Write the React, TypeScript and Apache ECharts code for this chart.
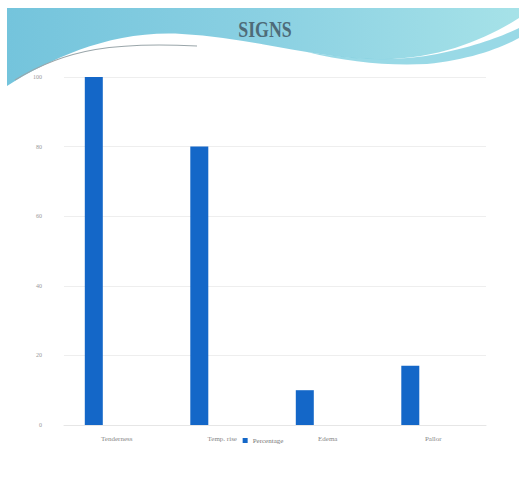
import React, { useEffect, useRef } from "react";
import * as echarts from "echarts";

const categories = ["Tenderness", "Temp. rise", "Edema", "Pallor"];
const percentage = [100, 80, 10, 17];
const yTicks = [0, 20, 40, 60, 80, 100];

const WAVE_D =
  "M0,0 L512,0 L512,10 C480,30 440,48 385,51 C320,54 250,30 175,26 C105,22 45,50 0,78 Z";
const STRIPE_D =
  "M300,44 C350,52 390,54 430,46 C470,38 495,28 512,20 L512,30 C490,42 460,52 420,56 C380,58 340,54 300,44 Z";

echarts.graphic.registerShape("wave", echarts.graphic.extendPath(WAVE_D, {}));
echarts.graphic.registerShape("stripe", echarts.graphic.extendPath(STRIPE_D, {}));

export default function App() {
  const ref = useRef<HTMLDivElement>(null);
  useEffect(() => {
    const chart = echarts.init(ref.current!, null, { renderer: "svg" });
    chart.setOption({
      animation: false,
      backgroundColor: "#ffffff",
      graphic: [
        {
          type: "wave",
          x: 0,
          y: 0,
          z: -10,
          style: {
            fill: new echarts.graphic.LinearGradient(0, 0, 1, 0, [
              { offset: 0, color: "#74c4dc" },
              { offset: 0.5, color: "#8ad0e2" },
              { offset: 1, color: "#a6e2e8" },
            ]),
          },
        },
        {
          type: "stripe",
          x: 0,
          y: 0,
          z: -9,
          style: { fill: "#7fd0e0", opacity: 0.8 },
        },
        {
          type: "bezierCurve",
          z: -8,
          shape: { x1: 8, y1: 72, cpx1: 60, cpy1: 40, cpx2: 110, cpy2: 34, x2: 190, y2: 38 },
          style: { stroke: "#9aa6aa", lineWidth: 1.2, fill: null },
        },
        {
          type: "text",
          x: 258,
          y: 21,
          z: 10,
          scaleX: 0.85,
          scaleY: 1.1,
          style: {
            text: "SIGNS",
            fill: "#4e6b78",
            font: "bold 21px 'Liberation Serif', serif",
            align: "center",
            verticalAlign: "middle",
          },
        },
      ],
      grid: { left: 57, right: 33, top: 69, bottom: 72 },
      legend: {
        data: ["Percentage"],
        left: "center",
        top: 424,
        itemWidth: 5,
        itemHeight: 5,
        icon: "rect",
        itemGap: 4,
        textStyle: { fontSize: 7, color: "#777", fontFamily: "Liberation Serif" },
      },
      xAxis: {
        type: "category",
        data: categories,
        axisLine: { lineStyle: { color: "#e6e6e6" } },
        axisTick: { show: false },
        axisLabel: { fontSize: 7, color: "#888", margin: 10, fontFamily: "Liberation Serif" },
      },
      yAxis: {
        type: "value",
        min: yTicks[0],
        max: yTicks[yTicks.length - 1],
        interval: 20,
        axisLine: { show: false },
        axisTick: { show: false },
        splitLine: { lineStyle: { color: "#eeeeee" } },
        axisLabel: { fontSize: 6, color: "#999", margin: 22, fontFamily: "Liberation Serif" },
      },
      series: [
        {
          name: "Percentage",
          type: "bar",
          data: percentage,
          barWidth: 18,
          barGap: "155%",
          itemStyle: { color: "#1467c8" },
        },
        {
          name: "spacer",
          type: "bar",
          data: categories.map(() => null),
          barWidth: 18,
        },
      ],
    });
    return () => chart.dispose();
  }, []);
  return (
    <div
      ref={ref}
      style={{ position: "fixed", left: 7, top: 8, width: 512, height: 489 }}
    />
  );
}
